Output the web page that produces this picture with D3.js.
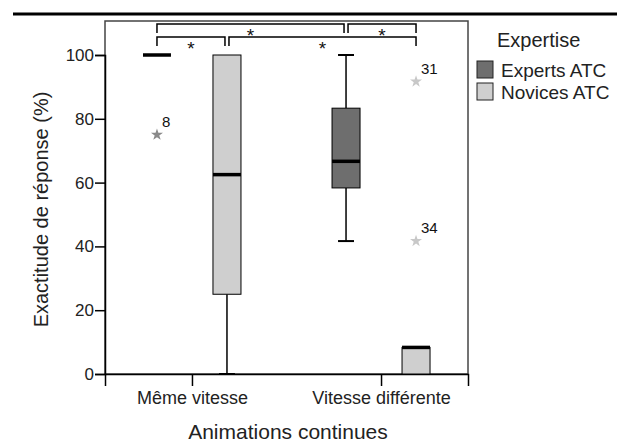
<!DOCTYPE html>
<html><head><meta charset="utf-8">
<script src="https://cdn.jsdelivr.net/npm/d3@7"></script>
<style>
html,body{margin:0;padding:0;background:#fff;}
svg{display:block;font-family:"Liberation Sans",Arial,sans-serif;}
</style></head>
<body><svg id="c" width="617" height="448"></svg>
<script>
// ---- data ----
const categories = ["Même vitesse", "Vitesse différente"];
const groups = ["Experts ATC", "Novices ATC"];
const groupColors = ["#6e6e6e", "#cfcfcf"];
// [min, q1, median, q3, max] per category
const expertsStats = [[100, 100, 100, 100, 100], [41.67, 58.33, 66.67, 83.33, 100]];
const novicesStats = [[0, 25, 62.5, 100, 100], [0, 0, 8.33, 8.33, 8.33]];
const outlierCats = ["Même vitesse", "Vitesse différente", "Vitesse différente"];
const outlierGroups = ["Experts ATC", "Novices ATC", "Novices ATC"];
const outlierValues = [75, 91.67, 41.67];
const outlierLabels = ["8", "31", "34"];
const yTicks = [0, 20, 40, 60, 80, 100];
// significance comparisons: [cat, group] -> [cat, group], level (0 = top)
const compFrom = [["Même vitesse","Experts ATC"], ["Vitesse différente","Experts ATC"], ["Même vitesse","Experts ATC"], ["Même vitesse","Novices ATC"]];
const compTo   = [["Vitesse différente","Experts ATC"], ["Vitesse différente","Novices ATC"], ["Même vitesse","Novices ATC"], ["Vitesse différente","Novices ATC"]];
const compLevel = [0, 0, 1, 1];
const compText = ["*", "*", "*", "*"];
const xTitle = "Animations continues";
const yTitle = "Exactitude de réponse (%)";
const legendTitle = "Expertise";

// ---- layout ----
const FONT = "'Liberation Sans', Arial, sans-serif";
const svg = d3.select("#c");
const L = 105, R = 468, B = 374, T = 21;
const x = d3.scalePoint().domain(categories).range([L, R]).padding(0.46);
const xg = d3.scalePoint().domain(groups).range([-35, 35]);
const y = d3.scaleLinear().domain([0, 100]).range([B, 55]);
const bw = 28;
const cx = (c, g) => x(c) + xg(g);

// top rule
svg.append("line").attr("x1", 13).attr("x2", 617).attr("y1", 14).attr("y2", 14)
  .attr("stroke", "#000").attr("stroke-width", 3);

// frame
svg.append("rect").attr("x", L).attr("y", T).attr("width", R - L).attr("height", B - T)
  .attr("fill", "none").attr("stroke", "#444").attr("stroke-width", 1.5);

// y axis
const ya = svg.append("g").attr("transform", `translate(${L},0)`)
  .call(d3.axisLeft(y).tickValues(yTicks).tickSize(10).tickPadding(1).tickFormat(d3.format("d")));
ya.select(".domain").attr("stroke", "#000").attr("stroke-width", 1.5);
ya.selectAll(".tick line").attr("stroke", "#000").attr("stroke-width", 1.5);
ya.selectAll("text").attr("font-size", 17).attr("fill", "#222").attr("font-family", FONT);

// x axis
const xa = svg.append("g").attr("transform", `translate(0,${B})`)
  .call(d3.axisBottom(x).tickSize(12).tickPadding(5));
xa.select(".domain").attr("stroke", "#000").attr("stroke-width", 1.5);
xa.selectAll(".tick line").attr("stroke", "#000").attr("stroke-width", 1.5);
xa.selectAll("text").attr("font-size", 18).attr("fill", "#222").attr("font-family", FONT);

// titles
svg.append("text").attr("x", 288).attr("y", 439).attr("text-anchor", "middle")
  .attr("font-size", 21).attr("fill", "#222").attr("font-family", FONT).text(xTitle);
svg.append("text").attr("transform", `translate(48,${(T + B) / 2 + 12}) rotate(-90)`)
  .attr("text-anchor", "middle").attr("font-size", 20).attr("fill", "#222").attr("font-family", FONT).text(yTitle);

// boxes
const allStats = [expertsStats, novicesStats];
groups.forEach((g, gi) => {
  categories.forEach((c, ci) => {
    const [mn, q1, md, q3, mx] = allStats[gi][ci];
    const xc = cx(c, g);
    const gg = svg.append("g");
    if (mx > q3) {
      gg.append("line").attr("x1", xc).attr("x2", xc).attr("y1", y(q3)).attr("y2", y(mx)).attr("stroke", "#000").attr("stroke-width", 1.5);
      gg.append("line").attr("x1", xc - 8).attr("x2", xc + 8).attr("y1", y(mx)).attr("y2", y(mx)).attr("stroke", "#000").attr("stroke-width", 2);
    }
    if (mn < q1) {
      gg.append("line").attr("x1", xc).attr("x2", xc).attr("y1", y(q1)).attr("y2", y(mn)).attr("stroke", "#000").attr("stroke-width", 1.5);
      gg.append("line").attr("x1", xc - 8).attr("x2", xc + 8).attr("y1", y(mn)).attr("y2", y(mn)).attr("stroke", "#000").attr("stroke-width", 2);
    }
    gg.append("rect").attr("x", xc - bw / 2).attr("y", y(q3)).attr("width", bw).attr("height", y(q1) - y(q3))
      .attr("fill", groupColors[gi]).attr("stroke", "#000").attr("stroke-width", 1);
    gg.append("line").attr("x1", xc - bw / 2).attr("x2", xc + bw / 2).attr("y1", y(md)).attr("y2", y(md))
      .attr("stroke", "#000").attr("stroke-width", 3.5);
  });
});

// outliers
const star = d3.symbol().type(d3.symbolStar).size(45);
outlierValues.forEach((v, i) => {
  const xc = cx(outlierCats[i], outlierGroups[i]);
  const gi = groups.indexOf(outlierGroups[i]);
  svg.append("path").attr("d", star).attr("transform", `translate(${xc},${y(v)})`)
    .attr("fill", gi === 0 ? "#8a8a8a" : "#c8c8c8");
  svg.append("text").attr("x", xc + 5).attr("y", y(v) - 8).attr("font-size", 15).attr("fill", "#111")
    .attr("font-family", FONT).text(outlierLabels[i]);
});

// significance brackets
const levelY = [24, 37];
const ends = compFrom.map((f, i) => [cx(f[0], f[1]), cx(compTo[i][0], compTo[i][1])]);
ends.forEach((e, i) => {
  let [a, b] = e;
  ends.forEach((o, j) => {
    if (j === i || compLevel[j] !== compLevel[i]) return;
    if (Math.abs(o[0] - b) < 1) b -= 2;
    if (Math.abs(o[1] - a) < 1) a += 2;
  });
  const ly = levelY[compLevel[i]];
  svg.append("path").attr("d", `M${a},${ly + 9}V${ly}H${b}V${ly + 9}`)
    .attr("fill", "none").attr("stroke", "#000").attr("stroke-width", 1.5);
  svg.append("text").attr("x", (a + b) / 2).attr("y", ly + 18).attr("text-anchor", "middle")
    .attr("font-size", 19).attr("fill", "#111").attr("font-family", FONT).text(compText[i]);
});

// legend
svg.append("text").attr("x", 497).attr("y", 47).attr("font-size", 20).attr("fill", "#222").attr("font-family", FONT).text(legendTitle);
groups.forEach((g, i) => {
  const ly = 61 + i * 22;
  svg.append("rect").attr("x", 477).attr("y", ly).attr("width", 16).attr("height", 17)
    .attr("fill", groupColors[i]).attr("stroke", "#222").attr("stroke-width", 1);
  svg.append("text").attr("x", 501).attr("y", ly + 16).attr("font-size", 19).attr("fill", "#222").attr("font-family", FONT).text(g);
});
</script></body></html>
